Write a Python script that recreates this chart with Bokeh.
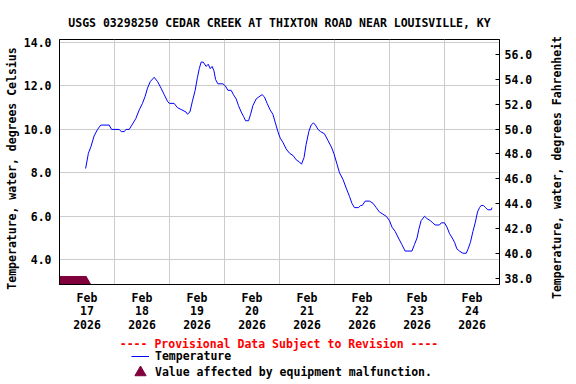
import math
import pandas as pd
from bokeh.plotting import figure
from bokeh.layouts import row, column
from bokeh.models import (Range1d, LinearAxis, FixedTicker, PrintfTickFormatter,
                          Legend, LegendItem, Label)
from bokeh.embed import file_html
from bokeh.resources import INLINE

# ---------------- data ----------------
title_text = "USGS 03298250 CEDAR CREEK AT THIXTON ROAD NEAR LOUISVILLE, KY"
y_left_label = "Temperature, water, degrees Celsius"
y_right_label = "Temperature, water, degrees Fahrenheit"
provisional_text = "---- Provisional Data Subject to Revision ----"
series_name = "Temperature"
malf_name = "Value affected by equipment malfunction."

base_time = "2026-02-17 00:00"
end_time = "2026-02-25 00:00"
day_ticks = ["2026-02-17 12:00", "2026-02-18 12:00", "2026-02-19 12:00", "2026-02-20 12:00",
             "2026-02-21 12:00", "2026-02-22 12:00", "2026-02-23 12:00", "2026-02-24 12:00"]
day_labels = ["Feb\n17\n2026", "Feb\n18\n2026", "Feb\n19\n2026", "Feb\n20\n2026",
              "Feb\n21\n2026", "Feb\n22\n2026", "Feb\n23\n2026", "Feb\n24\n2026"]
grid_days = ["2026-02-18", "2026-02-19", "2026-02-20", "2026-02-21",
             "2026-02-22", "2026-02-23", "2026-02-24"]

# hours since Feb 17 00:00
temp_hours = [11.4, 12.6, 13.7, 15.1, 16.6, 18.0, 21.7, 22.7, 26.0, 27.0,
              28.3, 29.0, 30.4, 31.6, 33.3, 34.8, 36.2, 37.3, 38.4, 39.6,
              41.3, 42.8, 44.3, 45.7, 47.1, 47.9, 50.0, 51.5, 53.4, 55.2,
              55.8, 56.9, 58.0, 59.2, 60.2, 61.0, 61.8, 62.7, 64.0, 64.9,
              65.8, 66.6, 67.4, 68.1, 69.1, 71.3, 72.4, 73.5, 74.9, 75.9,
              77.1, 78.1, 79.3, 80.3, 81.2, 82.5, 83.4, 84.4, 85.8, 87.0,
              88.4, 89.4, 90.6, 91.9, 93.1, 94.2, 95.3, 96.3, 97.5, 98.9,
              100.4, 101.9, 103.3, 104.7, 105.6, 106.7, 107.6, 108.8, 109.8, 110.8,
              111.7, 112.8, 113.9, 115.6, 117.1, 118.6, 119.7, 121.1, 122.2, 123.7,
              125.1, 126.6, 127.6, 128.7, 130.5, 131.4, 132.1, 133.4, 135.3, 136.8,
              138.2, 139.6, 141.1, 142.6, 144.0, 145.1, 146.5, 147.9, 149.4, 150.8,
              153.8, 154.9, 156.0, 156.8, 157.8, 159.3, 160.3, 161.8, 162.9, 163.9,
              165.8, 166.6, 168.0, 169.1, 170.2, 171.4, 172.4, 173.4, 174.5, 176.0,
              177.5, 178.3, 179.3, 180.4, 181.4, 182.4, 183.3, 184.0, 185.0, 185.9,
              186.9, 188.4, 188.7]
temp_c = [8.2, 8.9, 9.2, 9.7, 10.0, 10.2, 10.2, 10.0, 10.0, 9.9,
          9.9, 10.0, 10.0, 10.2, 10.5, 10.9, 11.2, 11.5, 11.9, 12.2,
          12.4, 12.2, 11.9, 11.6, 11.3, 11.2, 11.2, 11.0, 10.9, 10.8,
          10.7, 10.8, 11.3, 11.8, 12.4, 12.8, 13.1, 13.1, 12.9, 13.0,
          12.8, 12.9, 12.7, 12.3, 12.1, 12.1, 12.0, 11.8, 11.8, 11.6,
          11.4, 11.1, 10.8, 10.6, 10.4, 10.4, 10.7, 11.1, 11.4, 11.5,
          11.6, 11.5, 11.2, 10.9, 10.7, 10.3, 9.9, 9.6, 9.4, 9.1,
          8.9, 8.8, 8.6, 8.5, 8.4, 8.7, 9.3, 9.9, 10.2, 10.3,
          10.2, 10.0, 9.9, 9.8, 9.5, 9.2, 8.9, 8.4, 8.0, 7.7,
          7.3, 6.9, 6.6, 6.4, 6.4, 6.5, 6.5, 6.7, 6.7, 6.6,
          6.4, 6.2, 6.1, 6.0, 5.8, 5.5, 5.3, 5.0, 4.7, 4.4,
          4.4, 4.7, 5.0, 5.4, 5.8, 6.0, 5.9, 5.8, 5.7, 5.6,
          5.6, 5.7, 5.7, 5.5, 5.2, 5.0, 4.8, 4.5, 4.4, 4.3,
          4.3, 4.5, 4.8, 5.3, 5.7, 6.2, 6.4, 6.5, 6.5, 6.4,
          6.3, 6.3, 6.4]

# malfunction-flagged times (hours since Feb 17 00:00)
malf_hours = [0.0, 0.5, 1.0, 1.5, 2.0, 2.5, 3.0, 3.5, 4.0, 4.5, 5.0, 5.5,
              6.0, 6.5, 7.0, 7.5, 8.0, 8.5, 9.0, 9.5, 10.0, 10.5, 11.0, 11.5]

c_ticks = [4, 6, 8, 10, 12, 14]
f_ticks = [38, 40, 42, 44, 46, 48, 50, 52, 54, 56]
c_range = (2.86, 14.14)
f_range = (37.50, 57.21)

# ---------------- build ----------------
def to_ms(ts):
    return int(pd.Timestamp(ts).value // 10**6)

t0 = to_ms(base_time)
t_end = to_ms(end_time)
HOUR = 3600 * 1000
temp_x = [t0 + h * HOUR for h in temp_hours]
malf_x = [t0 + h * HOUR for h in malf_hours]
malf_y = [c_range[0] + 0.115 for _ in malf_hours]
tick_ms = [to_ms(s) for s in day_ticks]
grid_ms = [to_ms(s) for s in grid_days]

FONT = "DejaVu Sans Mono"
FS = "11.5px"
LINE_COLOR = "#0000ff"
MALF_COLOR = "#80003c"

L_W, R_W = 20, 36
MAIN_W = 576 - L_W - R_W
MAIN_H = 335
LEG_H = 384 - MAIN_H
FRAME_L, FRAME_R, FRAME_T, FRAME_B = 58, 499, 39, 284


def blank(width, height):
    f = figure(width=width, height=height, output_backend="svg", toolbar_location=None,
               x_range=Range1d(0, 1), y_range=Range1d(0, 1),
               x_axis_location=None, y_axis_location=None, min_border=0)
    f.grid.visible = False
    f.outline_line_color = None
    f.background_fill_color = "white"
    f.border_fill_color = "white"
    f.title.visible = False
    return f


# ---- main plot ----
p = figure(width=MAIN_W, height=MAIN_H, output_backend="svg", toolbar_location=None,
           x_range=Range1d(t0, t_end), y_range=Range1d(*c_range),
           min_border_left=FRAME_L - L_W, min_border_right=MAIN_W + L_W - FRAME_R,
           min_border_top=FRAME_T, min_border_bottom=MAIN_H - FRAME_B)
p.background_fill_color = "white"
p.border_fill_color = "white"
p.outline_line_color = "black"
p.outline_line_width = 1
p.outline_line_alpha = 1.0

p.title.text = title_text
p.title.align = "center"
p.title.text_font = FONT
p.title.text_font_style = "bold"
p.title.text_font_size = FS
p.title.text_color = "black"
p.title.standoff = 19

p.extra_y_ranges = {"F": Range1d(*f_range)}

xa = p.xaxis[0]
xa.ticker = FixedTicker(ticks=tick_ms)
xa.major_label_overrides = {k: v for k, v in zip(tick_ms, day_labels)}
xa.major_tick_line_color = None
xa.major_tick_in = 0
xa.major_tick_out = 0
xa.minor_tick_line_color = None
xa.minor_tick_in = 0
xa.minor_tick_out = 0
xa.major_label_standoff = 6
xa.axis_line_color = "black"
xa.major_label_text_line_height = 0.97

ya = p.yaxis[0]
ya.ticker = FixedTicker(ticks=c_ticks)
ya.formatter = PrintfTickFormatter(format="%.1f")
ya.major_tick_line_color = None
ya.major_tick_in = 0
ya.major_tick_out = 0
ya.minor_tick_line_color = None
ya.minor_tick_in = 0
ya.minor_tick_out = 0
ya.major_label_standoff = 8
ya.axis_line_color = "black"

ra = LinearAxis(y_range_name="F", ticker=FixedTicker(ticks=f_ticks),
                formatter=PrintfTickFormatter(format="%.1f"))
ra.major_tick_in = 4
ra.major_tick_out = 0
ra.major_tick_line_color = "black"
ra.minor_tick_line_color = None
ra.minor_tick_in = 0
ra.minor_tick_out = 0
ra.major_label_standoff = 5
ra.axis_line_color = "black"
p.add_layout(ra, "right")

for ax in (xa, ya, ra):
    ax.major_label_text_font = FONT
    ax.major_label_text_font_style = "bold"
    ax.major_label_text_font_size = FS
    ax.major_label_text_color = "black"

p.xgrid.ticker = FixedTicker(ticks=grid_ms)
p.ygrid.ticker = FixedTicker(ticks=c_ticks)
for g in (p.xgrid, p.ygrid):
    g.grid_line_color = "#cccccc"
    g.grid_line_width = 1

p.line(temp_x, temp_c, line_color=LINE_COLOR, line_width=1)
p.scatter(malf_x, malf_y, marker="triangle", size=10.4,
          fill_color=MALF_COLOR, line_color=MALF_COLOR)

# ---- strip under the plot: provisional note + legend (frame aligned with main frame) ----
lg = blank(MAIN_W, LEG_H)
lg.add_layout(Label(x=277.5 - FRAME_L, y=LEG_H - (343 - MAIN_H), x_units="screen",
                    y_units="screen", text=provisional_text, text_align="center",
                    text_baseline="middle", text_font=FONT, text_font_style="bold",
                    text_font_size=FS, text_color="#ff0000"))
proxy_line = lg.line(temp_x, temp_c, line_color=LINE_COLOR, line_width=1)
proxy_tri = lg.scatter(malf_x, malf_y, marker="triangle",
                       fill_color=MALF_COLOR, line_color=MALF_COLOR)
leg_common = dict(padding=0, margin=0, spacing=0, border_line_color=None,
                  background_fill_alpha=0, label_text_font=FONT, label_text_font_style="bold",
                  label_text_font_size=FS, label_text_color="black")
leg1 = Legend(items=[LegendItem(label=series_name, renderers=[proxy_line])],
              location=(130 - FRAME_L, LEG_H - (356 - MAIN_H) - 7), glyph_width=18,
              glyph_height=14, label_height=14, label_standoff=6, **leg_common)
leg2 = Legend(items=[LegendItem(label=malf_name, renderers=[proxy_tri])],
              location=(125 - FRAME_L, LEG_H - (372 - MAIN_H) - 14), glyph_width=28,
              glyph_height=28, label_height=28, label_standoff=1, **leg_common)
lg.add_layout(leg1)
lg.add_layout(leg2)

# ---- side strips holding the rotated axis titles ----
lft = blank(L_W, 384)
lft.add_layout(Label(x=11, y=384 - 168, x_units="screen", y_units="screen",
                     text=y_left_label, angle=math.pi / 2, text_align="center",
                     text_baseline="middle", text_font=FONT, text_font_style="bold",
                     text_font_size=FS, text_color="black"))
rgt = blank(R_W, 384)
rgt.add_layout(Label(x=556 - (576 - R_W), y=384 - 167, x_units="screen", y_units="screen",
                     text=y_right_label, angle=math.pi / 2, text_align="center",
                     text_baseline="middle", text_font=FONT, text_font_style="bold",
                     text_font_size=FS, text_color="black"))

layout = row(lft, column(p, lg, spacing=0), rgt, spacing=0)

open("out.html", "w").write(file_html(layout, INLINE))
